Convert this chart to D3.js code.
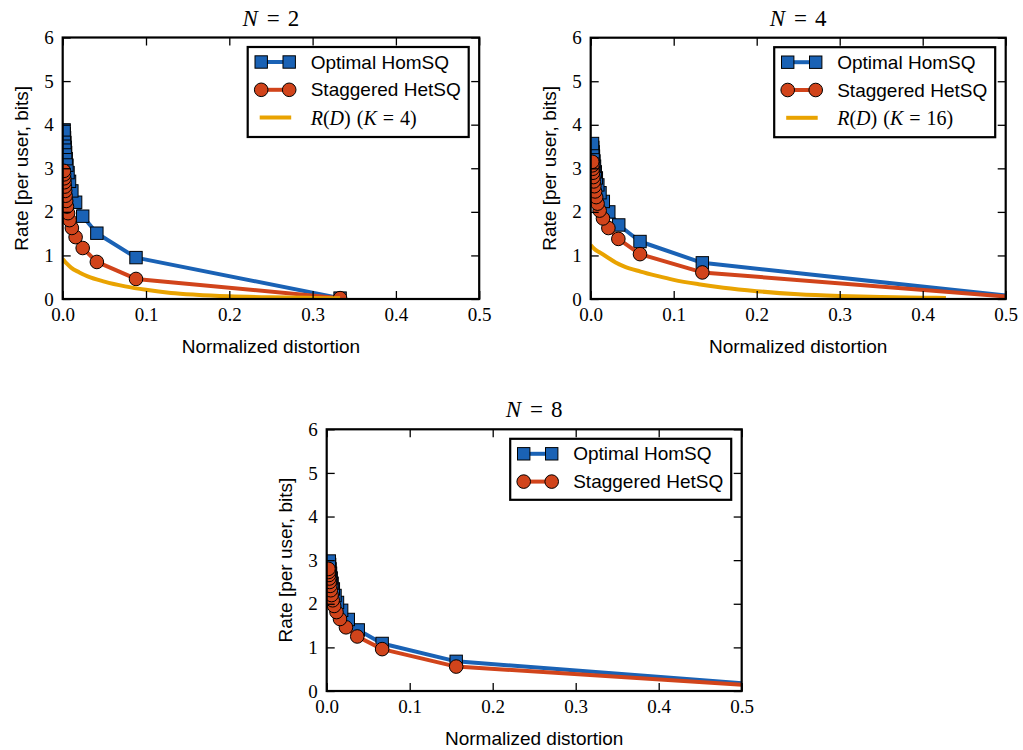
<!DOCTYPE html>
<html>
<head>
<meta charset="utf-8">
<script src="https://cdn.jsdelivr.net/npm/d3@7"></script>
<style>
  html, body { margin: 0; padding: 0; background: #fff; }
  svg { display: block; }
  .tick text { font-family: "Liberation Serif", "Times New Roman", serif; font-size: 19px; fill: #000; }
  .tick line { stroke: #000; stroke-width: 1.3; }
  .lbl { font-family: "Liberation Sans", Arial, sans-serif; font-size: 19px; fill: #000; }
  .math { font-family: "Liberation Serif", "Times New Roman", serif; fill: #000; }
</style>
</head>
<body>
<svg id="fig" width="1023" height="750"></svg>
<script>
// Axis ticks shared by every panel
const xTicks = [0, 0.1, 0.2, 0.3, 0.4, 0.5];
const yTicks = [0, 1, 2, 3, 4, 5, 6];

// N = 2
const homN2D = [0.333, 0.088, 0.041, 0.024, 0.0155, 0.0110, 0.0082, 0.0064, 0.0051, 0.0042, 0.0035, 0.0030, 0.0026, 0.0022, 0.0019, 0.0017];
const homN2R = [0.02, 0.95, 1.51, 1.90, 2.22, 2.48, 2.70, 2.90, 3.07, 3.22, 3.36, 3.48, 3.59, 3.70, 3.79, 3.88];
const hetN2D = [0.333, 0.088, 0.041, 0.024, 0.0155, 0.0110, 0.0082, 0.0064, 0.0051, 0.0042, 0.0035, 0.0030, 0.0026, 0.0022, 0.0019, 0.0017, 0.0015];
const hetN2R = [0.02, 0.46, 0.85, 1.17, 1.42, 1.63, 1.81, 1.97, 2.12, 2.25, 2.37, 2.48, 2.58, 2.68, 2.77, 2.86, 2.94];
const rdN2D = [0, 0.005, 0.01, 0.02, 0.03, 0.05, 0.075, 0.1, 0.13, 0.16, 0.2, 0.25, 0.3, 0.333];
const rdN2R = [0.92, 0.81, 0.72, 0.61, 0.52, 0.40, 0.29, 0.21, 0.14, 0.10, 0.065, 0.04, 0.025, 0.015];

// N = 4
const homN4D = [0.538, 0.1345, 0.0594, 0.0338, 0.0218, 0.0152, 0.0112, 0.0086, 0.0068, 0.0055, 0.0046, 0.0039, 0.0033, 0.0029, 0.0025, 0.0022];
const homN4R = [0, 0.83, 1.32, 1.70, 2.00, 2.24, 2.44, 2.62, 2.78, 2.92, 3.05, 3.17, 3.28, 3.38, 3.48, 3.57];
const hetN4D = [0.538, 0.1345, 0.0594, 0.0333, 0.0213, 0.0148, 0.0108, 0.0083, 0.0066, 0.0053, 0.0044, 0.0037, 0.0032, 0.0028, 0.0024, 0.0021, 0.0019];
const hetN4R = [0, 0.61, 1.03, 1.38, 1.63, 1.85, 2.03, 2.19, 2.34, 2.47, 2.59, 2.70, 2.80, 2.90, 2.99, 3.07, 3.15];
const rdN4D = [0, 0.005, 0.01, 0.02, 0.03, 0.04, 0.06, 0.08, 0.1, 0.13, 0.16, 0.2, 0.25, 0.3, 0.35, 0.4, 0.428];
const rdN4R = [1.24, 1.14, 1.08, 0.96, 0.84, 0.75, 0.63, 0.53, 0.44, 0.34, 0.26, 0.18, 0.11, 0.07, 0.045, 0.03, 0.025];

// N = 8
const homN8D = [0.62, 0.156, 0.0668, 0.038, 0.026, 0.018, 0.013, 0.0100, 0.0080, 0.0065, 0.0054, 0.0046, 0.0040, 0.0035, 0.0031];
const homN8R = [0, 0.68, 1.09, 1.40, 1.64, 1.85, 2.03, 2.19, 2.34, 2.47, 2.59, 2.70, 2.80, 2.90, 2.98];
const hetN8D = [0.62, 0.156, 0.0668, 0.0368, 0.0232, 0.016, 0.0118, 0.009, 0.0072, 0.0059, 0.0049, 0.0042, 0.0036, 0.0031, 0.0027, 0.0024, 0.0021];
const hetN8R = [0, 0.56, 0.96, 1.25, 1.46, 1.65, 1.81, 1.95, 2.08, 2.20, 2.31, 2.41, 2.50, 2.58, 2.66, 2.73, 2.80];

const seriesNames = ["Optimal HomSQ", "Staggered HetSQ"];

const BLUE = "#1a62b5", RED = "#d1441b", GOLD = "#e9a301";

const zip = (xs, ys) => xs.map((d, i) => ({ d, r: ys[i] }));

const panels = [
  { n: "2", k: "4", left: 62.7, top: 37.5, w: 416.5, h: 261.5,
    hom: zip(homN2D, homN2R), het: zip(hetN2D, hetN2R), rd: zip(rdN2D, rdN2R) },
  { n: "4", k: "16", left: 590.7, top: 37.7, w: 415, h: 261.3,
    hom: zip(homN4D, homN4R), het: zip(hetN4D, hetN4R), rd: zip(rdN4D, rdN4R) },
  { n: "8", k: null, left: 326.7, top: 429.3, w: 415, h: 261.7,
    hom: zip(homN8D, homN8R), het: zip(hetN8D, hetN8R), rd: null }
];

const svg = d3.select("#fig");

function drawSquare(g, cx, cy, color) {
  g.append("rect").attr("x", cx - 6.2).attr("y", cy - 6.2).attr("width", 12.4).attr("height", 12.4)
    .attr("fill", color).attr("stroke", "#000").attr("stroke-width", 1);
}
function drawCircle(g, cx, cy, color) {
  g.append("circle").attr("cx", cx).attr("cy", cy).attr("r", 6.8)
    .attr("fill", color).attr("stroke", "#000").attr("stroke-width", 1);
}

panels.forEach((p, idx) => {
  const g = svg.append("g").attr("transform", `translate(${p.left},${p.top})`);
  const x = d3.scaleLinear().domain([0, 0.5]).range([0, p.w]);
  const y = d3.scaleLinear().domain([0, 6]).range([p.h, 0]);

  const clipId = "clip" + idx;
  g.append("clipPath").attr("id", clipId)
    .append("rect").attr("width", p.w).attr("height", p.h);

  const plot = g.append("g").attr("clip-path", `url(#${clipId})`);
  const line = d3.line().x(d => x(d.d)).y(d => y(d.r));

  // Optimal HomSQ
  plot.append("path").datum(p.hom).attr("d", line)
    .attr("fill", "none").attr("stroke", BLUE).attr("stroke-width", 4).attr("stroke-linejoin", "round");
  p.hom.forEach(d => drawSquare(plot, x(d.d), y(d.r), BLUE));

  // Staggered HetSQ
  plot.append("path").datum(p.het).attr("d", line)
    .attr("fill", "none").attr("stroke", RED).attr("stroke-width", 4).attr("stroke-linejoin", "round");
  p.het.forEach(d => drawCircle(plot, x(d.d), y(d.r), RED));

  // Rate-distortion bound
  if (p.rd) {
    plot.append("path").datum(p.rd).attr("d", d3.line().curve(d3.curveMonotoneX).x(d => x(d.d)).y(d => y(d.r)))
      .attr("fill", "none").attr("stroke", GOLD).attr("stroke-width", 4);
  }

  // Axes with inward ticks on all four sides
  const fmtX = d3.format(".1f");
  g.append("g").attr("transform", `translate(0,${p.h})`)
    .call(d3.axisBottom(x).tickValues(xTicks).tickFormat(fmtX).tickSizeInner(-8).tickSizeOuter(0).tickPadding(9))
    .call(a => a.select(".domain").remove());
  g.append("g")
    .call(d3.axisTop(x).tickValues(xTicks).tickFormat("").tickSizeInner(-8).tickSizeOuter(0))
    .call(a => a.select(".domain").remove());
  g.append("g")
    .call(d3.axisLeft(y).tickValues(yTicks).tickFormat(d3.format("d")).tickSizeInner(-8).tickSizeOuter(0).tickPadding(9))
    .call(a => a.select(".domain").remove());
  g.append("g").attr("transform", `translate(${p.w},0)`)
    .call(d3.axisRight(y).tickValues(yTicks).tickFormat("").tickSizeInner(-8).tickSizeOuter(0))
    .call(a => a.select(".domain").remove());
  g.selectAll(".tick text").attr("fill", "#000");
  g.selectAll(".tick line").attr("stroke", "#000");

  g.append("rect").attr("width", p.w).attr("height", p.h)
    .attr("fill", "none").attr("stroke", "#000").attr("stroke-width", 2.2);

  // Title
  const t = g.append("text").attr("class", "math").attr("x", p.w / 2).attr("y", -12)
    .attr("text-anchor", "middle").attr("font-size", 23);
  t.append("tspan").attr("font-style", "italic").text("N");
  t.append("tspan").attr("dx", 9).text("=");
  t.append("tspan").attr("dx", 8).text(p.n);

  // Axis labels
  g.append("text").attr("class", "lbl").attr("x", p.w / 2).attr("y", p.h + 54)
    .attr("text-anchor", "middle").text("Normalized distortion");
  g.append("text").attr("class", "lbl")
    .attr("transform", `translate(${-35},${p.h / 2}) rotate(-90)`)
    .attr("text-anchor", "middle").text("Rate [per user, bits]");

  // Legend
  const rows = p.rd ? 3 : 2;
  const lw = 221, lh = rows === 3 ? 90 : 61;
  const lg = g.append("g").attr("transform", `translate(${p.w - 10.5 - lw},${9.5})`);
  lg.append("rect").attr("width", lw).attr("height", lh)
    .attr("fill", "#fff").attr("stroke", "#000").attr("stroke-width", 2.2);
  const rowY = i => 15 + i * 27.8;
  const mx0 = 13.5, mx1 = 41.5, tx = 63;
  lg.append("line").attr("x1", mx0).attr("x2", mx1).attr("y1", rowY(0)).attr("y2", rowY(0))
    .attr("stroke", BLUE).attr("stroke-width", 4);
  drawSquare(lg, mx0, rowY(0), BLUE); drawSquare(lg, mx1, rowY(0), BLUE);
  lg.append("text").attr("class", "lbl").attr("x", tx).attr("y", rowY(0)).attr("dy", "0.35em").text(seriesNames[0]);
  lg.append("line").attr("x1", mx0).attr("x2", mx1).attr("y1", rowY(1)).attr("y2", rowY(1))
    .attr("stroke", RED).attr("stroke-width", 4);
  drawCircle(lg, mx0, rowY(1), RED); drawCircle(lg, mx1, rowY(1), RED);
  lg.append("text").attr("class", "lbl").attr("x", tx).attr("y", rowY(1)).attr("dy", "0.35em").text(seriesNames[1]);
  if (p.rd) {
    lg.append("line").attr("x1", 12).attr("x2", 43.5).attr("y1", rowY(2)).attr("y2", rowY(2))
      .attr("stroke", GOLD).attr("stroke-width", 4);
    const m = lg.append("text").attr("class", "math").attr("x", tx).attr("y", rowY(2)).attr("dy", "0.35em")
      .attr("font-size", 20);
    m.append("tspan").attr("font-style", "italic").text("R");
    m.append("tspan").text("(");
    m.append("tspan").attr("font-style", "italic").text("D");
    m.append("tspan").text(")");
    m.append("tspan").attr("dx", 6).text("(");
    m.append("tspan").attr("font-style", "italic").text("K");
    m.append("tspan").attr("dx", 6).text("=");
    m.append("tspan").attr("dx", 6).text(p.k + ")");
  }
});
</script>
</body>
</html>
